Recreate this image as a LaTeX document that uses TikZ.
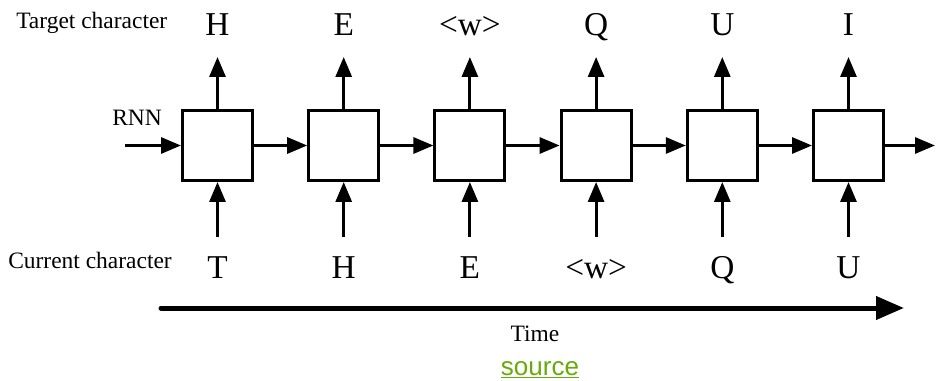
\documentclass[tikz,border=0pt]{standalone}
\usepackage{fontspec}
\setmainfont{Liberation Serif}
\newfontfamily\srcfont{Liberation Sans}
\usetikzlibrary{arrows.meta}
\definecolor{srcgreen}{RGB}{104,170,10}
\begin{document}
\begin{tikzpicture}[x=0.75pt,y=-0.75pt,
  cell/.style={draw,line width=2.25pt,minimum size=52.5pt,inner sep=0pt},
  conn/.style={line width=2.25pt,-{Triangle[length=15pt,width=12pt]}},
  big/.style={font=\fontsize{25}{25}\selectfont,anchor=base,inner sep=0pt},
  small/.style={font=\fontsize{17.6}{17.6}\selectfont,anchor=base west,inner sep=0pt}]
\useasboundingbox (0,0) rectangle (936,381);
\foreach \i/\x/\t/\c in {1/217.5/H/T,2/343.7/E/H,3/469.9/{<w>}/E,4/596.1/Q/{<w>},5/722.3/U/Q,6/848.5/I/U}{
  \node[cell] (b\i) at (\x,145.5) {};
  \node[big] (t\i) at (\x,36) {\t};
  \node[big] (c\i) at (\x,279) {\c};
  \coordinate (o\i) at (\x,57);
  \coordinate (n\i) at (\x,237);
  \draw[conn] (b\i.north) -- (o\i);
  \draw[conn] (n\i) -- (b\i.south);
}
\coordinate (hin) at (125,145.5);
\coordinate (hout) at (935,145.5);
\draw[conn] (hin) -- (b1.west);
\foreach \i/\j in {1/2,2/3,3/4,4/5,5/6}{
  \draw[conn] (b\i.east) -- (b\j.west);
}
\draw[conn] (b6.east) -- (hout);
\node[small] (lt) at (16,29) {Target character};
\node[small] (lc) at (8,269) {Current character};
\node[small] (lr) at (112,126) {RNN};
\coordinate (ts) at (161,308);
\coordinate (te) at (904,308);
\draw[line width=3.75pt,line cap=round,-{Triangle[length=21pt,width=17pt]}] (ts) -- (te);
\node[small,anchor=base] (time) at (535,341) {Time};
\node[anchor=base,inner sep=0pt,text=srcgreen,font=\srcfont\fontsize{19.5}{19.5}\selectfont] (src) at (540,375) {\underline{source}};
\end{tikzpicture}
\end{document}
